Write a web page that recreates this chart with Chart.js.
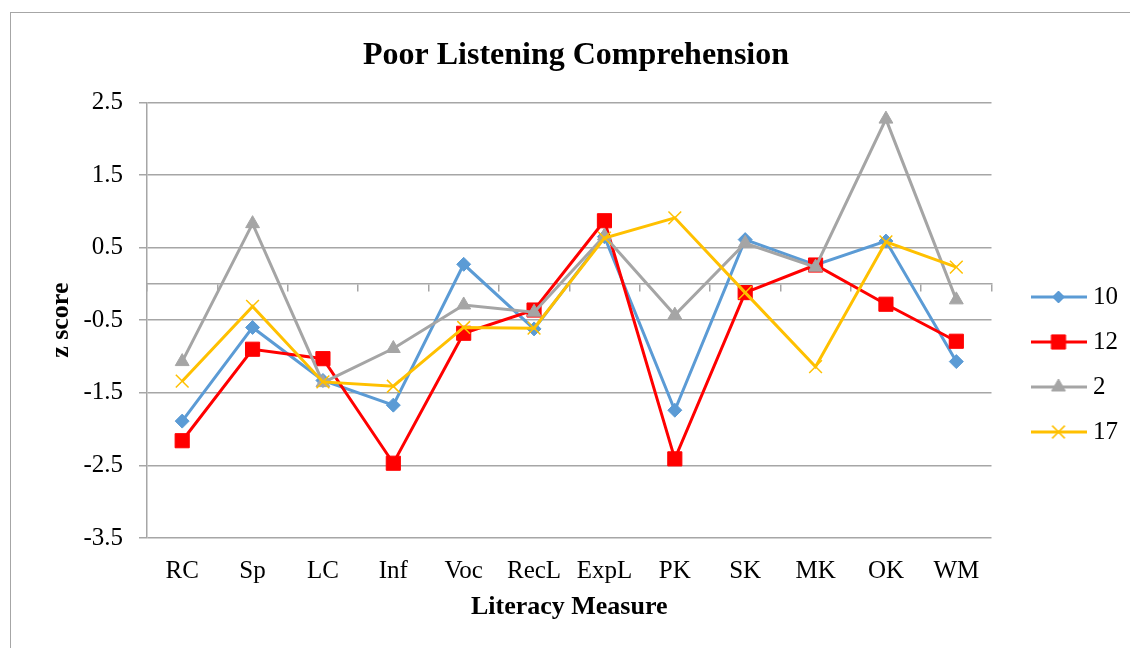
<!DOCTYPE html>
<html>
<head>
<meta charset="utf-8">
<script src="https://cdn.jsdelivr.net/npm/chart.js@4.4.1/dist/chart.umd.min.js"></script>
<style>
  html, body { margin: 0; padding: 0; background: #fff; overflow: hidden; }
  #frame { position: absolute; left: 10px; top: 12px; width: 1140px; height: 720px; border-left: 1px solid #a6a6a6; border-top: 1px solid #a6a6a6; }
  #chart { position: absolute; left: 10px; top: 12px; }
</style>
</head>
<body>
<div id="frame"></div>
<canvas id="chart" width="1132" height="705"></canvas>
<script>
// data
const categories = ['RC', 'Sp', 'LC', 'Inf', 'Voc', 'RecL', 'ExpL', 'PK', 'SK', 'MK', 'OK', 'WM'];
const seriesNames = ['10', '12', '2', '17'];
const s10 = [-1.89, -0.60, -1.33, -1.67, 0.27, -0.62, 0.65, -1.74, 0.61, 0.26, 0.59, -1.07];
const s12 = [-2.16, -0.90, -1.03, -2.47, -0.68, -0.36, 0.87, -2.41, -0.12, 0.26, -0.28, -0.79];
const s2 = [-1.07, 0.83, -1.36, -0.89, -0.29, -0.39, 0.66, -0.43, 0.56, 0.23, 2.27, -0.22];
const s17 = [-1.34, -0.31, -1.35, -1.41, -0.60, -0.61, 0.63, 0.91, -0.12, -1.14, 0.58, 0.23];
const yTicks = [-3.5, -2.5, -1.5, -0.5, 0.5, 1.5, 2.5];

const serif = "'Liberation Serif', 'Times New Roman', serif";
const gridColor = '#a6a6a6';

const styles = [
    { color: '#5B9BD5', point: 'rectRot', radius: 7, legendRadius: 6, bw: 1 },
    { color: '#FF0000', point: 'rect', radius: 10, legendRadius: 10, bw: 1 },
    { color: '#A5A5A5', point: 'triangle', radius: 8, legendRadius: 8, bw: 1 },
    { color: '#FFC000', point: 'crossRot', radius: 9, legendRadius: 9, bw: 1.5 }
];
const values = [s10, s12, s2, s17];

// small canvas with line + marker, used as the legend symbol
function legendIcon(st) {
    const c = document.createElement('canvas');
    c.width = 56;
    c.height = 20;
    const ctx = c.getContext('2d');
    ctx.strokeStyle = st.color;
    ctx.fillStyle = st.color;
    ctx.lineWidth = 3;
    ctx.beginPath();
    ctx.moveTo(0, 10);
    ctx.lineTo(56, 10);
    ctx.stroke();
    ctx.lineWidth = st.bw;
    Chart.helpers.drawPoint(ctx, { pointStyle: st.point, radius: st.legendRadius, borderWidth: st.bw, rotation: 0 }, 28, 10);
    return c;
}
const icons = styles.map(legendIcon);

const datasets = values.map((v, i) => ({
    label: seriesNames[i],
    data: v,
    xAxisID: 'x',
    yAxisID: 'y',
    borderColor: styles[i].color,
    backgroundColor: styles[i].color,
    borderWidth: 3,
    pointStyle: styles[i].point,
    pointRadius: styles[i].radius,
    pointBackgroundColor: styles[i].color,
    pointBorderColor: styles[i].color,
    pointBorderWidth: styles[i].bw,
    tension: 0,
    order: 4 - i
}));

new Chart(document.getElementById('chart'), {
    type: 'line',
    data: { labels: categories, datasets: datasets },
    options: {
        responsive: false,
        animation: false,
        layout: { padding: { left: 14, right: 14, top: 0, bottom: 0 } },
        plugins: {
            title: {
                display: true,
                text: 'Poor Listening Comprehension',
                color: '#000',
                font: { family: serif, size: 32, weight: 'bold' },
                padding: { top: 25, bottom: 27 }
            },
            legend: {
                position: 'right',
                labels: {
                    usePointStyle: true,
                    pointStyleWidth: 44,
                    padding: 20,
                    color: '#000',
                    font: { family: serif, size: 25 },
                    generateLabels: chart => Chart.defaults.plugins.legend.labels.generateLabels(chart)
                        .map(l => Object.assign(l, { pointStyle: icons[l.datasetIndex], lineWidth: 0 })),
                    sort: (a, b) => a.datasetIndex - b.datasetIndex
                }
            },
            tooltip: { enabled: false }
        },
        scales: {
            x: {
                type: 'category',
                offset: true,
                afterFit: s => { s.height = 179; },
                grid: { display: false, drawTicks: false },
                border: { display: false },
                ticks: { color: '#000', font: { family: serif, size: 25 }, padding: 18, maxRotation: 0, autoSkip: false },
                title: {
                    display: true,
                    text: 'Literacy Measure',
                    color: '#000',
                    font: { family: serif, size: 26, weight: 'bold' },
                    padding: { top: 7, bottom: 94 }
                }
            },
            // horizontal axis line crossing at z = 0
            x0: {
                type: 'category',
                axis: 'x',
                position: { y: 0 },
                offset: true,
                grid: { offset: true, drawOnChartArea: false, tickLength: 7, color: gridColor, lineWidth: 1.5 },
                border: { display: true, color: gridColor, width: 1.5 },
                ticks: { display: false }
            },
            y: {
                type: 'linear',
                min: -3.5,
                max: 2.5,
                afterBuildTicks: s => { s.ticks = yTicks.map(v => ({ value: v })); },
                afterFit: s => { s.width = 123; },
                grid: { color: gridColor, lineWidth: 1.5, tickLength: 8 },
                border: { display: true, color: gridColor, width: 1.5 },
                ticks: { color: '#000', font: { family: serif, size: 25 }, padding: 16 },
                title: {
                    display: true,
                    text: 'z score',
                    color: '#000',
                    font: { family: serif, size: 26, weight: 'bold' },
                    padding: { top: 22, bottom: 0 }
                }
            },
            // empty spacer between plot and legend
            yR: {
                type: 'linear',
                axis: 'y',
                position: 'right',
                grid: { display: false },
                border: { display: false },
                ticks: { display: false },
                afterFit: s => { s.width = 25; }
            }
        }
    }
});
</script>
</body>
</html>
